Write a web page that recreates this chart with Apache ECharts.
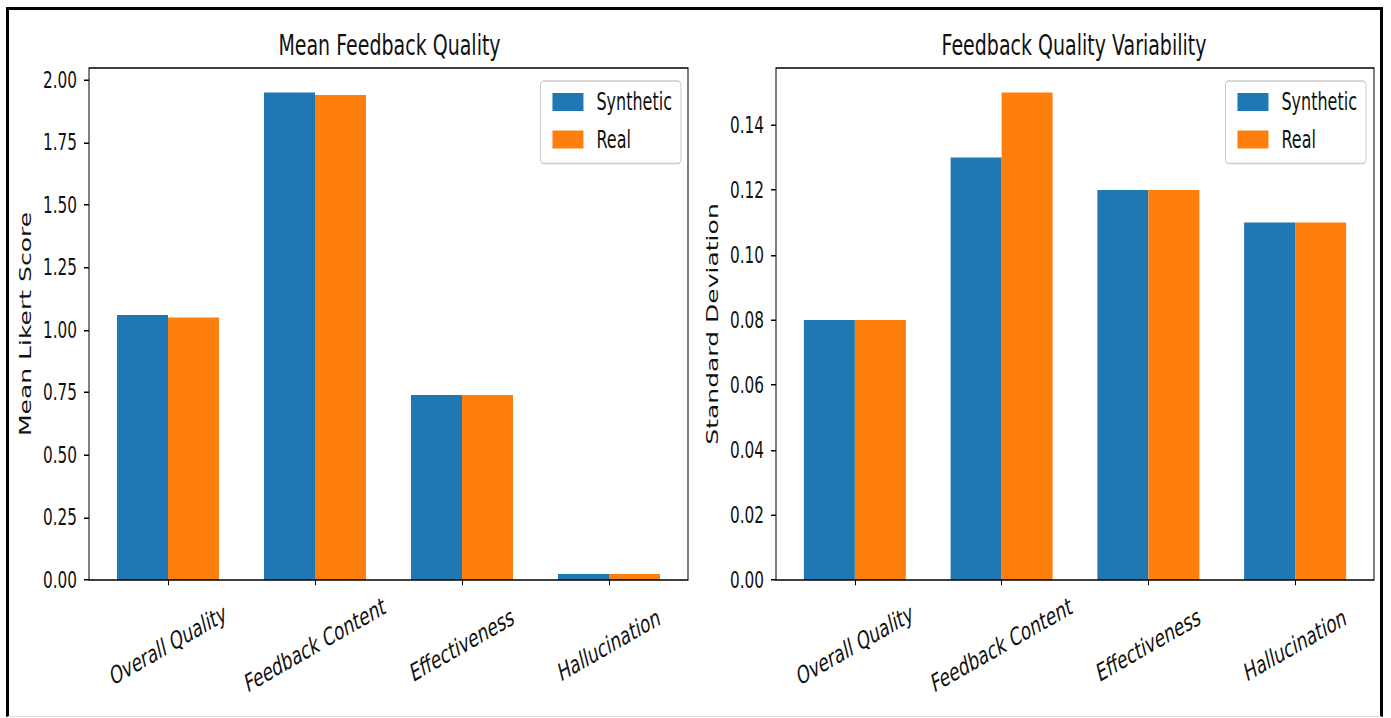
<!DOCTYPE html>
<html>
<head>
<meta charset="utf-8">
<script src="https://cdn.jsdelivr.net/npm/echarts@6/dist/echarts.min.js"></script>
<style>
  html, body { margin: 0; padding: 0; background: #fff; }
  #wrap { position: relative; width: 1391px; height: 718px; overflow: hidden; }
  /* the source figure is stretched vertically, so draw at 1/1.5 height and scale up */
  #chart { position: absolute; left: 0; top: 0; width: 1391px; height: 478.667px;
           transform: scaleY(1.5); transform-origin: 0 0; }
  #frame { position: absolute; left: 6px; top: 7px; width: 1377px; height: 710px; box-sizing: border-box;
           border: 3px solid #000; border-bottom: 1px solid #ddd; pointer-events: none; }
</style>
</head>
<body>
<div id="wrap">
  <div id="chart"></div>
  <div id="frame"></div>
</div>
<script>
const FONT = 'DejaVu Sans, Verdana, sans-serif'

const categories = ['Overall Quality', 'Feedback Content', 'Effectiveness', 'Hallucination']
const seriesNames = ['Synthetic', 'Real']
const meanSynthetic = [1.06, 1.95, 0.74, 0.024]
const meanReal = [1.05, 1.94, 0.74, 0.024]
const stdSynthetic = [0.08, 0.13, 0.12, 0.11]
const stdReal = [0.08, 0.15, 0.12, 0.11]
const meanTicks = [0, 0.25, 0.5, 0.75, 1.0, 1.25, 1.5, 1.75, 2.0]
const stdTicks = [0, 0.02, 0.04, 0.06, 0.08, 0.1, 0.12, 0.14]

const COLORS = ['#1f77b4', '#ff7f0e']
const S = 1.5 // vertical stretch of the reference

const chart = echarts.init(document.getElementById('chart'), null, { renderer: 'svg' })

const plotTop = 68 / S
const plotH = (580 - 68) / S
// matplotlib leaves a slightly wider margin at the ends than echarts' bands,
// so the bar grid is inset a bit inside the drawn frame
const INSET = 5.5

const xAxisFor = (gridIndex) => ({
  type: 'category',
  gridIndex,
  data: categories,
  axisLine: { show: false },
  axisTick: { show: true, alignWithLabel: true, length: 3.5, lineStyle: { color: '#000' } },
  axisLabel: {
    rotate: 21,
    align: 'center',
    verticalAlign: 'middle',
    margin: 43,
    fontFamily: FONT,
    fontSize: 16.5,
    color: '#111',
  },
  splitLine: { show: false },
})

const yAxisFor = (gridIndex, ticks, max, name) => ({
  type: 'value',
  gridIndex,
  min: 0,
  max,
  interval: ticks[1],
  offset: INSET,
  name,
  nameLocation: 'middle',
  nameGap: 55,
  nameTextStyle: { fontFamily: FONT, fontSize: 16.7, color: '#111' },
  axisLine: { show: false },
  axisTick: { show: true, length: 5, customValues: ticks, lineStyle: { color: '#000' } },
  axisLabel: {
    customValues: ticks,
    margin: 12,
    fontFamily: FONT,
    fontSize: 15.3,
    color: '#111',
    formatter: (v) => v.toFixed(2),
  },
  splitLine: { show: false },
})

const legendFor = (right) => ({
  orient: 'vertical',
  right,
  top: 54,
  data: seriesNames,
  icon: 'rect',
  itemWidth: 31,
  itemHeight: 12,
  itemGap: 9,
  padding: [6, 9, 8, 12],
  borderColor: '#ccc',
  borderWidth: 1,
  borderRadius: 3,
  backgroundColor: 'rgba(255,255,255,0.8)',
  textStyle: { fontFamily: FONT, fontSize: 16, color: '#111', padding: [0, 0, 0, 8] },
})

const barSeries = (name, data, idx, axisIdx) => ({
  name,
  type: 'bar',
  xAxisIndex: axisIdx,
  yAxisIndex: axisIdx,
  data,
  barWidth: 51,
  barGap: '0%',
  itemStyle: { color: COLORS[idx] },
  emphasis: { disabled: true },
})

const option = {
  animation: false,
  color: COLORS,
  title: [
    { text: 'Mean Feedback Quality', left: 384.5, top: 16, textAlign: 'center',
      textStyle: { fontFamily: FONT, fontSize: 19, fontWeight: 'normal', color: '#111' } },
    { text: 'Feedback Quality Variability', left: 1069, top: 16, textAlign: 'center',
      textStyle: { fontFamily: FONT, fontSize: 19, fontWeight: 'normal', color: '#111' } },
  ],
  legend: [legendFor(1391 - 681), legendFor(1391 - 1366)],
  grid: [
    // plotting grids (no border)
    { left: 89 + INSET, top: plotTop, width: 599 - 2 * INSET, height: plotH, show: false },
    { left: 776 + INSET, top: plotTop, width: 598 - 2 * INSET, height: plotH, show: false },
    // axes frames (spines)
    { left: 89, top: plotTop, width: 599, height: plotH, show: true, borderColor: '#000', borderWidth: 1, z: 3 },
    { left: 776, top: plotTop, width: 598, height: plotH, show: true, borderColor: '#000', borderWidth: 1, z: 3 },
  ],
  xAxis: [xAxisFor(0), xAxisFor(1)],
  yAxis: [
    yAxisFor(0, meanTicks, 1.95 * 1.05, 'Mean Likert Score'),
    yAxisFor(1, stdTicks, 0.15 * 1.05, 'Standard Deviation'),
  ],
  series: [
    barSeries('Synthetic', meanSynthetic, 0, 0),
    barSeries('Real', meanReal, 1, 0),
    barSeries('Synthetic', stdSynthetic, 0, 1),
    barSeries('Real', stdReal, 1, 1),
  ],
}

chart.setOption(option)
</script>
</body>
</html>
